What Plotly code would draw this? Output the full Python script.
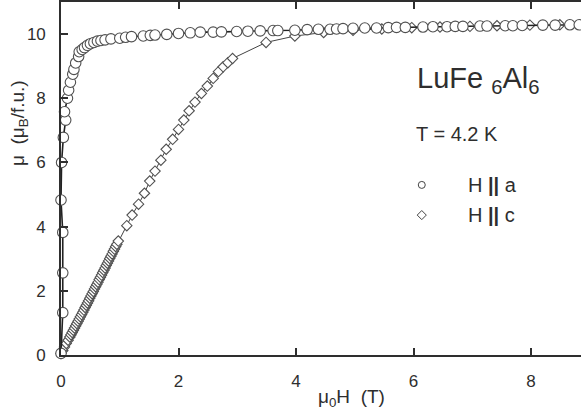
import plotly.graph_objects as go

# H || a (circles)
a_x = [0.00, 0.03, 0.03, 0.03, 0.00, 0.01, 0.04, 0.08, 0.06, 0.11, 0.13, 0.16, 0.20, 0.22, 0.25,
       0.30, 0.31, 0.36, 0.40, 0.45, 0.50, 0.56, 0.62, 0.68, 0.75, 0.85, 1.00, 1.10, 1.20, 1.40,
       1.52, 1.60, 1.80, 2.00, 2.20, 2.37, 2.59, 2.73, 2.99, 3.18, 3.39, 3.61, 3.69, 3.98, 4.19,
       4.38, 4.58, 4.69, 4.80, 4.97, 5.17, 5.37, 5.57, 5.71, 5.86, 6.16, 6.33, 6.57, 6.71, 6.84,
       7.13, 7.25, 7.56, 7.69, 7.85, 8.20, 8.41, 8.66, 8.82]
a_y = [0.05, 1.32, 2.56, 3.82, 4.83, 6.00, 6.78, 7.32, 7.58, 8.00, 8.25, 8.50, 8.75, 8.90, 9.10,
       9.30, 9.45, 9.52, 9.58, 9.65, 9.70, 9.74, 9.78, 9.80, 9.82, 9.85, 9.87, 9.90, 9.92, 9.94,
       9.96, 9.97, 9.99, 10.02, 10.04, 10.06, 10.06, 10.07, 10.08, 10.09, 10.10, 10.11, 10.11, 10.12, 10.14,
       10.15, 10.15, 10.16, 10.17, 10.18, 10.19, 10.19, 10.20, 10.21, 10.21, 10.22, 10.23, 10.23, 10.24, 10.24,
       10.25, 10.25, 10.26, 10.26, 10.27, 10.28, 10.28, 10.29, 10.29]

# H || c (diamonds)
c_x = [0.00, 0.03, 0.06, 0.09, 0.12, 0.15, 0.17, 0.19, 0.21, 0.23, 0.25, 0.27, 0.29, 0.31, 0.33,
       0.35, 0.37, 0.39, 0.41, 0.43, 0.45, 0.47, 0.49, 0.51, 0.53, 0.55, 0.57, 0.59, 0.61, 0.63,
       0.65, 0.67, 0.69, 0.71, 0.73, 0.75, 0.77, 0.79, 0.81, 0.83, 0.85, 0.87, 0.89, 0.91, 0.93,
       0.95, 0.975, 1.12, 1.21, 1.32, 1.42, 1.51, 1.60, 1.70, 1.79, 1.90, 2.00, 2.09, 2.18, 2.28,
       2.39, 2.49, 2.59, 2.68, 2.76, 2.84, 2.92, 3.49, 3.98, 4.47, 4.97, 5.46, 5.97, 6.45, 6.96,
       7.42, 7.98, 8.49]
c_y = [0.05, 0.14, 0.25, 0.36, 0.46, 0.56, 0.63, 0.70, 0.77, 0.84, 0.91, 0.98, 1.05, 1.12, 1.19,
       1.26, 1.33, 1.40, 1.48, 1.55, 1.62, 1.69, 1.77, 1.84, 1.91, 1.98, 2.06, 2.13, 2.20, 2.27,
       2.35, 2.42, 2.49, 2.57, 2.64, 2.71, 2.79, 2.86, 2.93, 3.01, 3.08, 3.15, 3.23, 3.30, 3.38,
       3.45, 3.55, 4.03, 4.36, 4.70, 5.04, 5.42, 5.73, 6.07, 6.41, 6.72, 7.03, 7.32, 7.61, 7.88,
       8.15, 8.38, 8.62, 8.83, 8.98, 9.11, 9.24, 9.74, 9.94, 10.05, 10.12, 10.16, 10.20, 10.22, 10.24,
       10.26, 10.28, 10.29]

x_ticks = [0, 2, 4, 6, 8]
y_ticks = [0, 2, 4, 6, 8, 10]

FONT = "Arial, Liberation Sans, sans-serif"
INK = "#2e2e2e"

W, H = 581, 418
L, R, T, B = 61, 0, 2, 63
pw, ph = W - L - R, H - T - B


def px(xp):
    return (xp - L) / pw


def py(yp):
    return (H - B - yp) / ph


fig = go.Figure()
fig.add_trace(go.Scatter(
    x=c_x, y=c_y, mode="lines+markers",
    line=dict(color="#444444", width=1),
    marker=dict(symbol="diamond", size=8, color="white", line=dict(color="#505050", width=1.1)),
    cliponaxis=False, showlegend=False))
fig.add_trace(go.Scatter(
    x=a_x, y=a_y, mode="lines+markers",
    line=dict(color="#222222", width=1.6),
    marker=dict(symbol="circle", size=10.5, color="white", line=dict(color="#505050", width=1.1)),
    cliponaxis=False, showlegend=False))

# legend symbols
fig.add_trace(go.Scatter(x=[6.14], y=[5.3], mode="markers",
    marker=dict(symbol="circle", size=7, color="white", line=dict(color="#444444", width=1)),
    showlegend=False))
fig.add_trace(go.Scatter(x=[6.14], y=[4.36], mode="markers",
    marker=dict(symbol="diamond", size=7, color="white", line=dict(color="#444444", width=1)),
    showlegend=False))

fig.update_layout(
    width=W, height=H,
    margin=dict(l=L, r=R, t=T, b=B),
    plot_bgcolor="white", paper_bgcolor="white",
    font=dict(family=FONT, color=INK, size=16),
    xaxis=dict(range=[0, 8.85], tickvals=x_ticks, ticks="inside", ticklen=7, tickwidth=1.5,
               tickcolor=INK, showline=True, linecolor=INK, linewidth=1.6, mirror="allticks",
               showgrid=False, zeroline=False, ticklabelstandoff=10,
               tickfont=dict(size=17, color=INK)),
    yaxis=dict(range=[0, 11], tickvals=y_ticks, ticks="inside", ticklen=7, tickwidth=1.5,
               tickcolor=INK, showline=True, linecolor=INK, linewidth=1.6, mirror=False,
               showgrid=False, zeroline=False, ticklabelstandoff=10,
               tickfont=dict(size=17, color=INK)),
    annotations=[
        dict(text="LuFe <sub>6</sub>Al<sub>6</sub>", x=px(415), y=py(80), xref="paper", yref="paper",
             xanchor="left", yanchor="middle", showarrow=False, font=dict(size=29, color=INK)),
        dict(text="T = 4.2 K", x=px(414), y=py(134), xref="paper", yref="paper",
             xanchor="left", yanchor="middle", showarrow=False, font=dict(size=20, color=INK)),
        dict(text="H <b>||</b> a", x=px(466), y=py(185), xref="paper", yref="paper",
             xanchor="left", yanchor="middle", showarrow=False, font=dict(size=20, color=INK)),
        dict(text="H <b>||</b> c", x=px(466), y=py(215), xref="paper", yref="paper",
             xanchor="left", yanchor="middle", showarrow=False, font=dict(size=20, color=INK)),
        dict(text="μ<sub>0</sub>H  (T)", x=px(351), y=py(398), xref="paper", yref="paper",
             xanchor="center", yanchor="middle", showarrow=False, font=dict(size=19, color=INK)),
        dict(text="μ  (μ<sub>B</sub>/f.u.)", x=px(19), y=py(123), xref="paper", yref="paper",
             xanchor="center", yanchor="middle", textangle=-90,
             showarrow=False, font=dict(size=19, color=INK)),
    ],
)

fig.write_html("out.html")
